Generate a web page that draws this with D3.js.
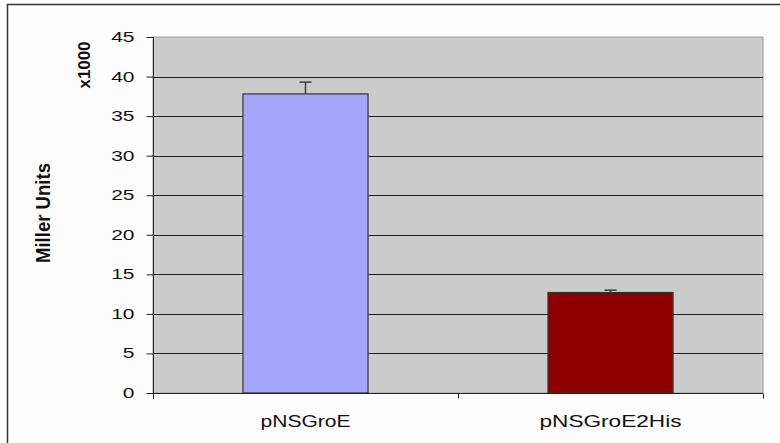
<!DOCTYPE html>
<html>
<head>
<meta charset="utf-8">
<script src="https://cdn.jsdelivr.net/npm/d3@7"></script>
<style>
  body { margin: 0; background: #fff; }
  svg { display: block; font-family: "Liberation Sans", Arial, sans-serif; }
</style>
</head>
<body>
<div id="chart"></div>
<script>
const categories = ["pNSGroE", "pNSGroE2His"];
const values = [37.8, 12.7];
const errors = [1.5, 0.3];
const bar_colors = ["#a6a6fd", "#8e0000"];
const y_ticks = [0, 5, 10, 15, 20, 25, 30, 35, 40, 45];

const W = 780, H = 443;
const plot = { left: 153, right: 763, top: 37, bottom: 393 };

const svg = d3.select("#chart").append("svg")
  .attr("width", W)
  .attr("height", H);

// outer chart frame (runs off the right and bottom edge)
svg.append("rect")
  .attr("x", 7.5).attr("y", 4.5)
  .attr("width", 800).attr("height", 460)
  .attr("fill", "#fdfdfd")
  .attr("stroke", "#333")
  .attr("stroke-width", 1.5);

const x = d3.scaleBand()
  .domain(categories)
  .range([plot.left, plot.right])
  .paddingInner(0.59)
  .paddingOuter(0.295);

const y = d3.scaleLinear()
  .domain([0, 45])
  .range([plot.bottom, plot.top]);

// plot area
svg.append("rect")
  .attr("x", plot.left).attr("y", plot.top)
  .attr("width", plot.right - plot.left)
  .attr("height", plot.bottom - plot.top)
  .attr("fill", "#cbcbcb")
  .attr("stroke", "#9a9a9a")
  .attr("stroke-width", 1);

// gridlines
svg.append("g")
  .selectAll("line")
  .data(y_ticks.filter(d => d > 0 && d < 45))
  .join("line")
  .attr("x1", plot.left).attr("x2", plot.right)
  .attr("y1", d => Math.round(y(d)) + 0.5)
  .attr("y2", d => Math.round(y(d)) + 0.5)
  .attr("stroke", "#1e1e1e")
  .attr("stroke-width", 1);

// bars
svg.append("g")
  .selectAll("rect")
  .data(categories)
  .join("rect")
  .attr("x", d => x(d))
  .attr("y", (d, i) => y(values[i]))
  .attr("width", x.bandwidth())
  .attr("height", (d, i) => y(0) - y(values[i]))
  .attr("fill", (d, i) => bar_colors[i])
  .attr("stroke", "#333")
  .attr("stroke-width", 1.2);

// error bars (upper half only)
const err = svg.append("g")
  .selectAll("g")
  .data(categories)
  .join("g")
  .attr("stroke", "#444")
  .attr("stroke-width", 1.6);
err.append("line")
  .attr("x1", d => x(d) + x.bandwidth() / 2)
  .attr("x2", d => x(d) + x.bandwidth() / 2)
  .attr("y1", (d, i) => y(values[i]))
  .attr("y2", (d, i) => y(values[i] + errors[i]));
err.append("line")
  .attr("x1", d => x(d) + x.bandwidth() / 2 - 6)
  .attr("x2", d => x(d) + x.bandwidth() / 2 + 6)
  .attr("y1", (d, i) => y(values[i] + errors[i]))
  .attr("y2", (d, i) => y(values[i] + errors[i]));

// y axis
const yAxis = svg.append("g")
  .attr("transform", `translate(${plot.left + 0.5},0)`)
  .call(d3.axisLeft(y).tickValues(y_ticks).tickSize(7).tickPadding(12));
yAxis.select(".domain").attr("stroke", "#222").attr("d", `M-0,${plot.top}V${plot.bottom + 6}`);
yAxis.selectAll(".tick line").attr("stroke", "#222");
yAxis.selectAll(".tick text")
  .attr("font-size", 14)
  .attr("fill", "#111")
  .attr("text-anchor", "end")
  .attr("transform", "scale(1.5,1)")
  .attr("x", -19 / 1.5);

// x axis
const xAxis = svg.append("g")
  .attr("transform", `translate(0,${plot.bottom + 0.5})`);
xAxis.append("line")
  .attr("x1", plot.left).attr("x2", plot.right)
  .attr("stroke", "#222");
xAxis.selectAll("line.sep")
  .data([plot.left, (plot.left + plot.right) / 2, plot.right])
  .join("line")
  .attr("class", "sep")
  .attr("x1", d => Math.round(d) + 0.5).attr("x2", d => Math.round(d) + 0.5)
  .attr("y1", 0).attr("y2", 5)
  .attr("stroke", "#222");

const label_len = [90, 142];
xAxis.selectAll("text")
  .data(categories)
  .join("text")
  .attr("x", d => x(d) + x.bandwidth() / 2)
  .attr("y", 33)
  .attr("text-anchor", "middle")
  .attr("font-size", 16.5)
  .attr("fill", "#111")
  .attr("textLength", (d, i) => label_len[i])
  .attr("lengthAdjust", "spacingAndGlyphs")
  .text(d => d);

// axis titles
svg.append("text")
  .attr("transform", "translate(50,213) rotate(-90) scale(1,1.35)")
  .attr("text-anchor", "middle")
  .attr("font-size", 15)
  .attr("font-weight", "bold")
  .attr("fill", "#111")
  .attr("textLength", 100)
  .attr("lengthAdjust", "spacingAndGlyphs")
  .text("Miller Units");

svg.append("text")
  .attr("transform", "translate(90,65) rotate(-90) scale(1,1.15)")
  .attr("text-anchor", "middle")
  .attr("font-size", 14)
  .attr("font-weight", "bold")
  .attr("fill", "#111")
  .attr("textLength", 47)
  .attr("lengthAdjust", "spacingAndGlyphs")
  .text("x1000");
</script>
</body>
</html>
